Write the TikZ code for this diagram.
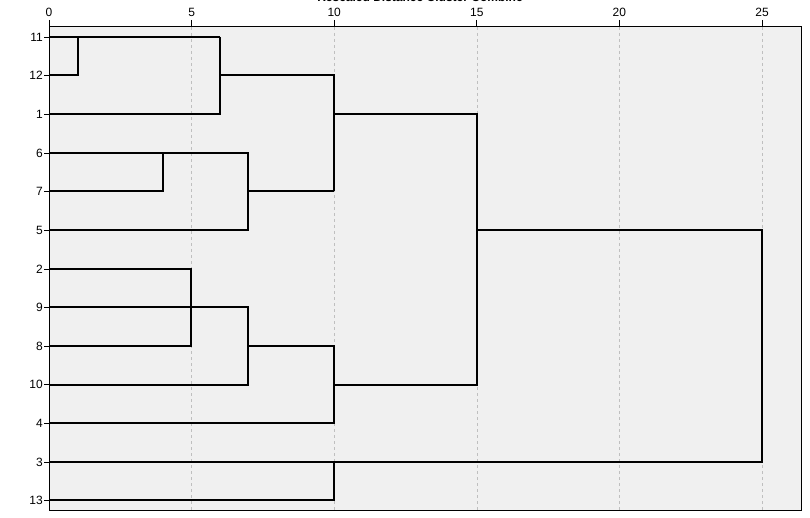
\documentclass[tikz,border=0pt]{standalone}
\usepackage{fontspec}
\setmainfont{Liberation Sans}
\begin{document}
\begin{tikzpicture}[x=1pt,y=-1pt,
  lab/.style={font=\fontsize{12}{12}\selectfont,inner sep=0pt},
  br/.style={line width=1.3pt,black},
  grid/.style={gray!50,dashed,line width=0.6pt}]
\useasboundingbox (0,0) rectangle (810,518);
\clip (0,0) rectangle (810,518);
\fill[white] (0,0) rectangle (810,518);
\fill[black!6] (49,27) rectangle (801,510);
\foreach \x in {191,334,477,619,762} \draw[grid] (\x,27) -- (\x,510);
\node[lab,font=\bfseries\fontsize{12}{12}\selectfont] (title) at (420,-3) {Rescaled Distance Cluster Combine};
\foreach \v [count=\i from 0] in {0,5,10,15,20,25}{
  \pgfmathsetmacro\xx{49+\v*28.52}
  \draw[line width=0.8pt] (\xx,20) -- (\xx,27);
  \node[lab] (t\i) at (\xx,12) {\v};
}
\foreach \n/\y in {11/37,12/75,1/114,6/153,7/191,5/230,2/269,9/307,8/346,10/384,4/423,3/462,13/500}{
  \draw[line width=0.8pt] (44,\y) -- (49,\y);
  \node[lab,anchor=east] (r\n) at (43,\y) {\n};
}
\draw[line width=1pt] (49,27) rectangle (801,510);
% branches
\draw[br] (49,37) -- (220,37);
\draw[br] (78,37) -- (78,75) -- (49,75);
\draw[br] (220,37) -- (220,114) -- (49,114);
\draw[br] (220,75) -- (334,75) -- (334,191);
\draw[br] (49,153) -- (248,153) -- (248,230) -- (49,230);
\draw[br] (49,191) -- (163,191) -- (163,153);
\draw[br] (248,191) -- (334,191);
\draw[br] (334,114) -- (477,114) -- (477,385) -- (334,385);
\draw[br] (49,269) -- (191,269) -- (191,346) -- (49,346);
\draw[br] (49,307) -- (248,307) -- (248,385) -- (49,385);
\draw[br] (248,346) -- (334,346) -- (334,423) -- (49,423);
\draw[br] (477,230) -- (762,230) -- (762,462) -- (49,462);
\draw[br] (334,462) -- (334,500) -- (49,500);
\end{tikzpicture}
\end{document}
